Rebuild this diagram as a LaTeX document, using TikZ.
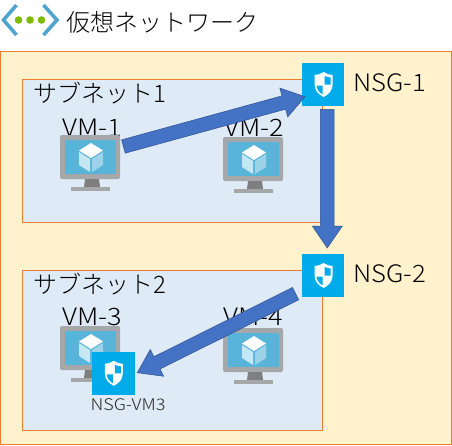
\documentclass[tikz,border=0pt]{standalone}
\usepackage{fontspec}
\setmainfont{Noto Sans CJK JP}[UprightFont=* Light]
\newfontfamily\latinf{Noto Sans CJK JP}[UprightFont=* Light,FakeStretch=1.07]
\newfontfamily\latinw{Noto Sans CJK JP}[UprightFont=* Light,FakeStretch=1.13]
\usetikzlibrary{calc}
\definecolor{outerfill}{HTML}{FFF2CC}
\definecolor{edgeorange}{HTML}{ED7D31}
\definecolor{subnetfill}{HTML}{DEEAF6}
\definecolor{nsgblue}{HTML}{00ABEC}
\definecolor{arrowblue}{HTML}{4472C4}
\definecolor{arrowedge}{HTML}{2F528F}
\definecolor{chevblue}{HTML}{50A5D0}
\definecolor{dotgreen}{HTML}{7FBA00}
\definecolor{mongrey}{HTML}{A6A7A8}
\definecolor{standgrey}{HTML}{7F7F7F}
\definecolor{screenblue}{HTML}{59B4D9}
\definecolor{cubeleft}{HTML}{C5E6F3}
\definecolor{cuberight}{HTML}{9CD3E8}
\newcommand{\blockarrow}[2]{%
  \draw[arrowedge,line width=0.5pt,fill=arrowblue,line join=miter]
    ($(#1)!6.9pt!90:(#2)$) --
    ($($(#2)!22pt!(#1)$)!6.9pt!-90:(#1)$) --
    ($($(#2)!22pt!(#1)$)!15pt!-90:(#1)$) --
    (#2) --
    ($($(#2)!22pt!(#1)$)!15pt!90:(#1)$) --
    ($($(#2)!22pt!(#1)$)!6.9pt!90:(#1)$) --
    ($(#1)!6.9pt!-90:(#2)$) -- cycle;}
\tikzset{
  x=1pt,y=-1pt,
  lbl/.style={anchor=base west,inner sep=0pt,outer sep=0pt,text=black,font=\fontsize{24}{28}\selectfont},
  nsglbl/.style={lbl,font=\fontsize{24}{28}\selectfont\latinf},
  vmlbl/.style={lbl,font=\fontsize{24}{28}\selectfont\latinw},
  smalllbl/.style={anchor=base west,inner sep=0pt,outer sep=0pt,text=black!85,font=\fontsize{16}{19}\selectfont\latinw},
  zone/.style={draw=edgeorange,line width=0.9pt},
  nsgbox/.style={fill=nsgblue,draw=none,minimum width=42.5pt,minimum height=43pt,inner sep=0pt,outer sep=0pt,anchor=center},
  vmicon/.pic={
    \fill[mongrey,rounded corners=2pt] (0,0) rectangle (60,44);
    \fill[standgrey] (25,44) -- (39,44) -- (40,52) -- (24,52) -- cycle;
    \fill[mongrey] (11,52) rectangle (50,56);
    \fill[screenblue] (5,5) rectangle (56,39);
    \fill[white] (31,8) -- (43,15.5) -- (31,23) -- (19,15.5) -- cycle;
    \fill[cubeleft] (19,17) -- (30,24) -- (30,37) -- (19,30) -- cycle;
    \fill[cuberight] (32,24) -- (43,17) -- (43,30) -- (32,37) -- cycle;
  },
  shieldicon/.pic={
    \fill[white] (0,-12.5) .. controls (3,-10.5) and (6,-9.5) .. (9,-9.5)
      -- (9,0) .. controls (9,6) and (5,10) .. (0,12.5)
      .. controls (-5,10) and (-9,6) .. (-9,0) -- (-9,-9.5)
      .. controls (-6,-9.5) and (-3,-10.5) .. (0,-12.5) -- cycle;
    \fill[nsgblue] (1,-8.5) .. controls (3,-7.5) and (5,-7) .. (7,-7) -- (7,0) -- (1,0) -- cycle;
    \fill[nsgblue] (-7,1) -- (-1,1) -- (-1,10) .. controls (-4,8) and (-7,5) .. (-7,1) -- cycle;
  }
}
\begin{document}
\begin{tikzpicture}
\useasboundingbox (0,0) rectangle (452,445);
\fill[white] (0,0) rectangle (452,445);
% virtual network icon
\draw[chevblue,line width=3.6pt,line join=miter] (16.5,5) -- (3.5,20) -- (16.5,35);
\draw[chevblue,line width=3.6pt,line join=miter] (43.5,5) -- (57,20) -- (43.5,35);
\fill[dotgreen] (18.5,20) circle (3.8) (30,20) circle (3.8) (41.5,20) circle (3.8);
\node[lbl] (title) at (66,31.5) {仮想ネットワーク};
% zones
\draw[zone,fill=outerfill] (0.5,51.7) rectangle (451.5,444);
\draw[zone,fill=subnetfill] (22.7,79.5) rectangle (322.7,222.3);
\draw[zone,fill=subnetfill] (22.7,270.3) rectangle (322.3,430.3);
\node[lbl] (sub1) at (33,102.5) {サブネット1};
\node[lbl] (sub2) at (33,293.3) {サブネット2};
% machines
\node[vmlbl] (vm1lbl) at (62.5,136) {VM-1};
\node[vmlbl] (vm2lbl) at (224.5,136) {VM-2};
\node[vmlbl] (vm3lbl) at (62.5,325.7) {VM-3};
\node[vmlbl] (vm4lbl) at (223.5,325) {VM-4};
\pic at (60,135) {vmicon};
\pic at (223,137) {vmicon};
\pic at (60,326) {vmicon};
\pic at (223,328) {vmicon};
% NSGs
\node[nsgbox] (nsg1) at (323.2,84.5) {};
\pic at (323.6,84.5) {shieldicon};
\node[nsgbox] (nsg2) at (323.2,275.5) {};
\pic at (323.6,275.5) {shieldicon};
\node[nsgbox] (nsg3) at (113.5,373.3) {};
\pic at (113.8,373.3) {shieldicon};
\node[nsglbl] (nsg1lbl) at (353.5,91.7) {NSG-1};
\node[nsglbl] (nsg2lbl) at (353.5,282.7) {NSG-2};
\node[smalllbl] (nsg3lbl) at (90.5,410) {NSG-VM3};
% connectors
\coordinate (a1) at (123.4,146.5);
\coordinate (b1) at (305,96.7);
\coordinate (a2) at (327.3,109.3);
\coordinate (b2) at (327.3,248);
\coordinate (a3) at (295.6,293.6);
\coordinate (b3) at (137.3,372.7);
\blockarrow{a1}{b1}
\blockarrow{a2}{b2}
\blockarrow{a3}{b3}
\end{tikzpicture}
\end{document}
